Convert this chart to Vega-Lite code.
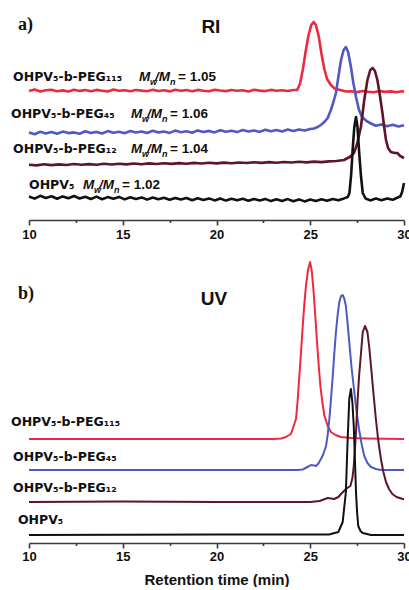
{
  "$schema": "https://vega.github.io/schema/vega-lite/v6.json",
  "padding": {"left": 10, "top": 10, "right": 0, "bottom": 0},
  "autosize": {"type": "pad"},
  "background": "white",
  "spacing": 12,
  "config": {
    "view": {"stroke": null},
    "font": "Liberation Sans",
    "axis": {"domainColor": "#3a3a3a", "domainWidth": 1.6, "tickColor": "#3a3a3a", "tickWidth": 1.6, "labelFont": "Liberation Sans", "labelFontWeight": "bold", "labelFontSize": 13, "labelColor": "#111111", "titleFont": "Liberation Sans", "titleFontWeight": "bold", "titleFontSize": 15, "titleColor": "#111111", "grid": false, "labelOverlap": false, "labelFlush": false}
  },
  "datasets": {
    "ri": [
      {"s":"PEG115","t":10.0,"v":129},{"s":"PEG115","t":10.3,"v":130.4},{"s":"PEG115","t":10.6,"v":128.6},{"s":"PEG115","t":10.9,"v":129.8},{"s":"PEG115","t":11.2,"v":130.2},{"s":"PEG115","t":11.5,"v":128.8},{"s":"PEG115","t":11.8,"v":129.6},{"s":"PEG115","t":12.1,"v":128.5},{"s":"PEG115","t":12.4,"v":130.3},{"s":"PEG115","t":12.7,"v":129.1},{"s":"PEG115","t":13.0,"v":129.9},{"s":"PEG115","t":13.3,"v":128.7},{"s":"PEG115","t":13.6,"v":130.1},{"s":"PEG115","t":13.9,"v":129.3},{"s":"PEG115","t":14.2,"v":128.6},{"s":"PEG115","t":14.5,"v":130.4},{"s":"PEG115","t":14.8,"v":129.2},{"s":"PEG115","t":15.1,"v":129.8},{"s":"PEG115","t":15.4,"v":128.7},{"s":"PEG115","t":15.7,"v":130.0},{"s":"PEG115","t":16.0,"v":129.4},{"s":"PEG115","t":16.3,"v":128.8},{"s":"PEG115","t":16.6,"v":130.3},{"s":"PEG115","t":16.9,"v":129.0},{"s":"PEG115","t":17.2,"v":129.7},{"s":"PEG115","t":17.5,"v":128.6},{"s":"PEG115","t":17.8,"v":130.2},{"s":"PEG115","t":18.1,"v":129.3},{"s":"PEG115","t":18.4,"v":129.9},{"s":"PEG115","t":18.7,"v":128.7},{"s":"PEG115","t":19.0,"v":130.1},{"s":"PEG115","t":19.3,"v":129.2},{"s":"PEG115","t":19.6,"v":128.8},{"s":"PEG115","t":19.9,"v":130.3},{"s":"PEG115","t":20.2,"v":129.5},{"s":"PEG115","t":20.5,"v":128.9},{"s":"PEG115","t":20.8,"v":130.0},{"s":"PEG115","t":21.1,"v":129.2},{"s":"PEG115","t":21.4,"v":129.8},{"s":"PEG115","t":21.7,"v":128.6},{"s":"PEG115","t":22.0,"v":130.2},{"s":"PEG115","t":22.3,"v":129.4},{"s":"PEG115","t":22.6,"v":128.9},{"s":"PEG115","t":22.9,"v":130.1},{"s":"PEG115","t":23.2,"v":129.3},{"s":"PEG115","t":23.5,"v":129.7},{"s":"PEG115","t":23.8,"v":129.0},{"s":"PEG115","t":24.1,"v":130.0},
      {"s":"PEG115","t":24.3,"v":130},{"s":"PEG115","t":24.45,"v":136},{"s":"PEG115","t":24.6,"v":150},{"s":"PEG115","t":24.75,"v":168},{"s":"PEG115","t":24.9,"v":184},{"s":"PEG115","t":25.05,"v":195},{"s":"PEG115","t":25.18,"v":198},{"s":"PEG115","t":25.3,"v":195},{"s":"PEG115","t":25.45,"v":184},{"s":"PEG115","t":25.6,"v":166},{"s":"PEG115","t":25.75,"v":151},{"s":"PEG115","t":25.9,"v":141},{"s":"PEG115","t":26.1,"v":135},{"s":"PEG115","t":26.3,"v":131.5},{"s":"PEG115","t":26.6,"v":130},{"s":"PEG115","t":26.9,"v":128.5},{"s":"PEG115","t":27.2,"v":128.8},{"s":"PEG115","t":27.5,"v":127.9},{"s":"PEG115","t":27.8,"v":129.0},{"s":"PEG115","t":28.1,"v":128.2},{"s":"PEG115","t":28.4,"v":127.7},{"s":"PEG115","t":28.7,"v":128.9},{"s":"PEG115","t":29.0,"v":128.1},{"s":"PEG115","t":29.3,"v":128.6},{"s":"PEG115","t":29.6,"v":127.8},{"s":"PEG115","t":29.9,"v":128.7},{"s":"PEG115","t":30.0,"v":128.3},
      {"s":"PEG45","t":10.0,"v":87.5},{"s":"PEG45","t":10.3,"v":85.8},{"s":"PEG45","t":10.6,"v":88.2},{"s":"PEG45","t":10.9,"v":86.6},{"s":"PEG45","t":11.2,"v":88.0},{"s":"PEG45","t":11.5,"v":86.2},{"s":"PEG45","t":11.8,"v":88.4},{"s":"PEG45","t":12.1,"v":86.9},{"s":"PEG45","t":12.4,"v":87.6},{"s":"PEG45","t":12.7,"v":86.3},{"s":"PEG45","t":13.0,"v":88.7},{"s":"PEG45","t":13.3,"v":87.0},{"s":"PEG45","t":13.6,"v":88.1},{"s":"PEG45","t":13.9,"v":86.5},{"s":"PEG45","t":14.2,"v":88.9},{"s":"PEG45","t":14.5,"v":87.2},{"s":"PEG45","t":14.8,"v":88.3},{"s":"PEG45","t":15.1,"v":86.8},{"s":"PEG45","t":15.4,"v":89.0},{"s":"PEG45","t":15.7,"v":87.4},{"s":"PEG45","t":16.0,"v":88.6},{"s":"PEG45","t":16.3,"v":87.0},{"s":"PEG45","t":16.6,"v":89.2},{"s":"PEG45","t":16.9,"v":87.6},{"s":"PEG45","t":17.2,"v":88.5},{"s":"PEG45","t":17.5,"v":87.1},{"s":"PEG45","t":17.8,"v":89.4},{"s":"PEG45","t":18.1,"v":87.8},{"s":"PEG45","t":18.4,"v":88.8},{"s":"PEG45","t":18.7,"v":87.3},{"s":"PEG45","t":19.0,"v":89.6},{"s":"PEG45","t":19.3,"v":88.0},{"s":"PEG45","t":19.6,"v":89.1},{"s":"PEG45","t":19.9,"v":87.6},{"s":"PEG45","t":20.2,"v":89.8},{"s":"PEG45","t":20.5,"v":88.2},{"s":"PEG45","t":20.8,"v":89.3},{"s":"PEG45","t":21.1,"v":87.9},{"s":"PEG45","t":21.4,"v":90.0},{"s":"PEG45","t":21.7,"v":88.4},{"s":"PEG45","t":22.0,"v":89.6},{"s":"PEG45","t":22.3,"v":88.1},{"s":"PEG45","t":22.6,"v":90.2},{"s":"PEG45","t":22.9,"v":88.7},{"s":"PEG45","t":23.2,"v":89.9},{"s":"PEG45","t":23.5,"v":88.5},{"s":"PEG45","t":23.8,"v":90.4},{"s":"PEG45","t":24.1,"v":89.0},{"s":"PEG45","t":24.4,"v":90.6},{"s":"PEG45","t":24.7,"v":89.4},{"s":"PEG45","t":25.0,"v":91.0},
      {"s":"PEG45","t":25.2,"v":91.5},{"s":"PEG45","t":25.4,"v":93},{"s":"PEG45","t":25.6,"v":95.5},{"s":"PEG45","t":25.8,"v":99},{"s":"PEG45","t":25.93,"v":102},{"s":"PEG45","t":26.1,"v":110},{"s":"PEG45","t":26.25,"v":119},{"s":"PEG45","t":26.37,"v":127},{"s":"PEG45","t":26.5,"v":143},{"s":"PEG45","t":26.64,"v":160},{"s":"PEG45","t":26.78,"v":170},{"s":"PEG45","t":26.9,"v":173},{"s":"PEG45","t":27.02,"v":168},{"s":"PEG45","t":27.17,"v":153},{"s":"PEG45","t":27.3,"v":137},{"s":"PEG45","t":27.44,"v":123},{"s":"PEG45","t":27.6,"v":110},{"s":"PEG45","t":27.76,"v":103},{"s":"PEG45","t":28.0,"v":99},{"s":"PEG45","t":28.24,"v":96.5},{"s":"PEG45","t":28.5,"v":94.2},{"s":"PEG45","t":28.8,"v":95.6},{"s":"PEG45","t":29.1,"v":93.8},{"s":"PEG45","t":29.4,"v":95.2},{"s":"PEG45","t":29.7,"v":93.6},{"s":"PEG45","t":30.0,"v":94.8},
      {"s":"PEG12","t":10.0,"v":55.3},{"s":"PEG12","t":10.4,"v":54.6},{"s":"PEG12","t":10.8,"v":55.8},{"s":"PEG12","t":11.2,"v":54.9},{"s":"PEG12","t":11.6,"v":55.6},{"s":"PEG12","t":12.0,"v":55.0},{"s":"PEG12","t":12.4,"v":56.0},{"s":"PEG12","t":12.8,"v":55.2},{"s":"PEG12","t":13.2,"v":55.9},{"s":"PEG12","t":13.6,"v":55.3},{"s":"PEG12","t":14.0,"v":56.2},{"s":"PEG12","t":14.4,"v":55.5},{"s":"PEG12","t":14.8,"v":56.3},{"s":"PEG12","t":15.2,"v":55.6},{"s":"PEG12","t":15.6,"v":56.5},{"s":"PEG12","t":16.0,"v":55.8},{"s":"PEG12","t":16.4,"v":56.6},{"s":"PEG12","t":16.8,"v":56.0},{"s":"PEG12","t":17.2,"v":56.8},{"s":"PEG12","t":17.6,"v":56.1},{"s":"PEG12","t":18.0,"v":56.9},{"s":"PEG12","t":18.4,"v":56.3},{"s":"PEG12","t":18.8,"v":57.1},{"s":"PEG12","t":19.2,"v":56.5},{"s":"PEG12","t":19.6,"v":57.2},{"s":"PEG12","t":20.0,"v":56.6},{"s":"PEG12","t":20.4,"v":57.4},{"s":"PEG12","t":20.8,"v":56.8},{"s":"PEG12","t":21.2,"v":57.5},{"s":"PEG12","t":21.6,"v":57.0},{"s":"PEG12","t":22.0,"v":57.7},{"s":"PEG12","t":22.4,"v":57.1},{"s":"PEG12","t":22.8,"v":57.9},{"s":"PEG12","t":23.2,"v":57.3},{"s":"PEG12","t":23.6,"v":58.0},{"s":"PEG12","t":24.0,"v":57.5},{"s":"PEG12","t":24.4,"v":58.2},{"s":"PEG12","t":24.8,"v":57.6},{"s":"PEG12","t":25.2,"v":58.4},{"s":"PEG12","t":25.6,"v":57.9},{"s":"PEG12","t":26.0,"v":58.6},{"s":"PEG12","t":26.4,"v":59.0},{"s":"PEG12","t":26.8,"v":60},{"s":"PEG12","t":27.1,"v":63},{"s":"PEG12","t":27.33,"v":67},{"s":"PEG12","t":27.5,"v":76},{"s":"PEG12","t":27.7,"v":93},{"s":"PEG12","t":27.88,"v":120},{"s":"PEG12","t":28.05,"v":140},{"s":"PEG12","t":28.2,"v":150},{"s":"PEG12","t":28.33,"v":152},{"s":"PEG12","t":28.45,"v":149},{"s":"PEG12","t":28.58,"v":140},{"s":"PEG12","t":28.72,"v":124},{"s":"PEG12","t":28.85,"v":107},{"s":"PEG12","t":28.95,"v":92},{"s":"PEG12","t":29.04,"v":80},{"s":"PEG12","t":29.15,"v":72},{"s":"PEG12","t":29.3,"v":68},{"s":"PEG12","t":29.5,"v":67},{"s":"PEG12","t":29.64,"v":67},{"s":"PEG12","t":29.8,"v":64},{"s":"PEG12","t":29.9,"v":63},{"s":"PEG12","t":30.0,"v":62},
      {"s":"OHPV5","t":10.0,"v":23.5},{"s":"OHPV5","t":10.3,"v":21.4},{"s":"OHPV5","t":10.6,"v":24.2},{"s":"OHPV5","t":10.9,"v":22.0},{"s":"OHPV5","t":11.2,"v":23.8},{"s":"OHPV5","t":11.5,"v":21.2},{"s":"OHPV5","t":11.8,"v":23.6},{"s":"OHPV5","t":12.1,"v":21.8},{"s":"OHPV5","t":12.4,"v":24.0},{"s":"OHPV5","t":12.7,"v":21.5},{"s":"OHPV5","t":13.0,"v":23.2},{"s":"OHPV5","t":13.3,"v":21.0},{"s":"OHPV5","t":13.6,"v":23.4},{"s":"OHPV5","t":13.9,"v":20.8},{"s":"OHPV5","t":14.2,"v":22.9},{"s":"OHPV5","t":14.5,"v":21.3},{"s":"OHPV5","t":14.8,"v":23.1},{"s":"OHPV5","t":15.1,"v":20.6},{"s":"OHPV5","t":15.4,"v":22.8},{"s":"OHPV5","t":15.7,"v":21.0},{"s":"OHPV5","t":16.0,"v":22.6},{"s":"OHPV5","t":16.3,"v":20.4},{"s":"OHPV5","t":16.6,"v":22.5},{"s":"OHPV5","t":16.9,"v":20.8},{"s":"OHPV5","t":17.2,"v":22.3},{"s":"OHPV5","t":17.5,"v":20.2},{"s":"OHPV5","t":17.8,"v":22.1},{"s":"OHPV5","t":18.1,"v":20.5},{"s":"OHPV5","t":18.4,"v":22.0},{"s":"OHPV5","t":18.7,"v":19.8},{"s":"OHPV5","t":19.0,"v":21.8},{"s":"OHPV5","t":19.3,"v":20.1},{"s":"OHPV5","t":19.6,"v":21.6},{"s":"OHPV5","t":19.9,"v":19.6},{"s":"OHPV5","t":20.2,"v":21.5},{"s":"OHPV5","t":20.5,"v":19.4},{"s":"OHPV5","t":20.8,"v":21.3},{"s":"OHPV5","t":21.1,"v":19.7},{"s":"OHPV5","t":21.4,"v":21.2},{"s":"OHPV5","t":21.7,"v":19.2},{"s":"OHPV5","t":22.0,"v":21.0},{"s":"OHPV5","t":22.3,"v":19.5},{"s":"OHPV5","t":22.6,"v":21.1},{"s":"OHPV5","t":22.9,"v":18.9},{"s":"OHPV5","t":23.2,"v":20.8},{"s":"OHPV5","t":23.5,"v":19.1},{"s":"OHPV5","t":23.8,"v":20.9},{"s":"OHPV5","t":24.1,"v":18.8},{"s":"OHPV5","t":24.4,"v":20.6},{"s":"OHPV5","t":24.7,"v":18.6},{"s":"OHPV5","t":25.0,"v":20.4},{"s":"OHPV5","t":25.3,"v":18.9},{"s":"OHPV5","t":25.6,"v":20.7},{"s":"OHPV5","t":25.9,"v":19.3},{"s":"OHPV5","t":26.2,"v":21.0},{"s":"OHPV5","t":26.5,"v":19.8},{"s":"OHPV5","t":26.8,"v":21.6},{"s":"OHPV5","t":27.0,"v":23},{"s":"OHPV5","t":27.09,"v":27},{"s":"OHPV5","t":27.18,"v":45},{"s":"OHPV5","t":27.26,"v":70},{"s":"OHPV5","t":27.35,"v":93},{"s":"OHPV5","t":27.44,"v":103},{"s":"OHPV5","t":27.52,"v":93},{"s":"OHPV5","t":27.6,"v":70},{"s":"OHPV5","t":27.7,"v":45},{"s":"OHPV5","t":27.8,"v":27},{"s":"OHPV5","t":27.95,"v":21.5},{"s":"OHPV5","t":28.2,"v":19.6},{"s":"OHPV5","t":28.5,"v":21.4},{"s":"OHPV5","t":28.8,"v":19.8},{"s":"OHPV5","t":29.1,"v":21.6},{"s":"OHPV5","t":29.4,"v":20.2},{"s":"OHPV5","t":29.6,"v":22.0},{"s":"OHPV5","t":29.8,"v":23.5},{"s":"OHPV5","t":29.9,"v":28},{"s":"OHPV5","t":30.0,"v":37}
    ],
    "uv": [
      {"s":"PEG115","t":10,"v":104},{"s":"PEG115","t":15,"v":104},{"s":"PEG115","t":20,"v":104},{"s":"PEG115","t":23.0,"v":104},{"s":"PEG115","t":23.44,"v":104.5},{"s":"PEG115","t":23.7,"v":106},{"s":"PEG115","t":23.97,"v":109},{"s":"PEG115","t":24.06,"v":114},{"s":"PEG115","t":24.15,"v":119},{"s":"PEG115","t":24.24,"v":124},{"s":"PEG115","t":24.33,"v":143},{"s":"PEG115","t":24.42,"v":167},{"s":"PEG115","t":24.51,"v":192},{"s":"PEG115","t":24.6,"v":217},{"s":"PEG115","t":24.68,"v":238},{"s":"PEG115","t":24.77,"v":257},{"s":"PEG115","t":24.88,"v":273},{"s":"PEG115","t":24.99,"v":281},{"s":"PEG115","t":25.08,"v":272},{"s":"PEG115","t":25.18,"v":251},{"s":"PEG115","t":25.27,"v":227},{"s":"PEG115","t":25.36,"v":201},{"s":"PEG115","t":25.45,"v":178},{"s":"PEG115","t":25.54,"v":157},{"s":"PEG115","t":25.65,"v":140},{"s":"PEG115","t":25.76,"v":127},{"s":"PEG115","t":25.93,"v":117},{"s":"PEG115","t":26.1,"v":111},{"s":"PEG115","t":26.35,"v":108},{"s":"PEG115","t":26.64,"v":106},{"s":"PEG115","t":27.2,"v":105},{"s":"PEG115","t":28,"v":104.5},{"s":"PEG115","t":30,"v":104},
      {"s":"PEG45","t":10,"v":73},{"s":"PEG45","t":15,"v":73},{"s":"PEG45","t":20,"v":73},{"s":"PEG45","t":24.3,"v":73},{"s":"PEG45","t":24.6,"v":73.5},{"s":"PEG45","t":24.85,"v":76},{"s":"PEG45","t":25.04,"v":78},{"s":"PEG45","t":25.2,"v":77.5},{"s":"PEG45","t":25.31,"v":77},{"s":"PEG45","t":25.45,"v":80},{"s":"PEG45","t":25.57,"v":84},{"s":"PEG45","t":25.7,"v":89},{"s":"PEG45","t":25.84,"v":97},{"s":"PEG45","t":25.93,"v":108},{"s":"PEG45","t":26.02,"v":124},{"s":"PEG45","t":26.11,"v":145},{"s":"PEG45","t":26.2,"v":167},{"s":"PEG45","t":26.28,"v":189},{"s":"PEG45","t":26.37,"v":211},{"s":"PEG45","t":26.46,"v":228},{"s":"PEG45","t":26.55,"v":241},{"s":"PEG45","t":26.64,"v":247},{"s":"PEG45","t":26.73,"v":248},{"s":"PEG45","t":26.82,"v":244},{"s":"PEG45","t":26.9,"v":237},{"s":"PEG45","t":26.99,"v":220},{"s":"PEG45","t":27.08,"v":201},{"s":"PEG45","t":27.2,"v":176},{"s":"PEG45","t":27.35,"v":151},{"s":"PEG45","t":27.48,"v":130},{"s":"PEG45","t":27.6,"v":114},{"s":"PEG45","t":27.74,"v":99},{"s":"PEG45","t":27.88,"v":87},{"s":"PEG45","t":28.05,"v":80},{"s":"PEG45","t":28.24,"v":76},{"s":"PEG45","t":28.5,"v":74},{"s":"PEG45","t":28.77,"v":73},{"s":"PEG45","t":30,"v":73},
      {"s":"PEG12","t":10,"v":41},{"s":"PEG12","t":15,"v":41.5},{"s":"PEG12","t":20,"v":41},{"s":"PEG12","t":25,"v":41},{"s":"PEG12","t":25.5,"v":42},{"s":"PEG12","t":25.93,"v":45},{"s":"PEG12","t":26.28,"v":44},{"s":"PEG12","t":26.5,"v":46},{"s":"PEG12","t":26.64,"v":49},{"s":"PEG12","t":26.9,"v":54},{"s":"PEG12","t":27.14,"v":57},{"s":"PEG12","t":27.25,"v":65},{"s":"PEG12","t":27.32,"v":77},{"s":"PEG12","t":27.38,"v":93},{"s":"PEG12","t":27.44,"v":111},{"s":"PEG12","t":27.53,"v":144},{"s":"PEG12","t":27.6,"v":166},{"s":"PEG12","t":27.68,"v":184},{"s":"PEG12","t":27.8,"v":211},{"s":"PEG12","t":27.92,"v":217},{"s":"PEG12","t":28.05,"v":211},{"s":"PEG12","t":28.15,"v":195},{"s":"PEG12","t":28.24,"v":177},{"s":"PEG12","t":28.37,"v":150},{"s":"PEG12","t":28.5,"v":124},{"s":"PEG12","t":28.63,"v":102},{"s":"PEG12","t":28.77,"v":84},{"s":"PEG12","t":28.9,"v":71},{"s":"PEG12","t":29.04,"v":61},{"s":"PEG12","t":29.2,"v":54},{"s":"PEG12","t":29.38,"v":49},{"s":"PEG12","t":29.6,"v":46},{"s":"PEG12","t":29.93,"v":44},{"s":"PEG12","t":30,"v":44},
      {"s":"OHPV5","t":10,"v":8},{"s":"OHPV5","t":20,"v":8.5},{"s":"OHPV5","t":26,"v":8.5},{"s":"OHPV5","t":26.5,"v":11},{"s":"OHPV5","t":26.73,"v":21},{"s":"OHPV5","t":26.9,"v":51},{"s":"OHPV5","t":26.99,"v":101},{"s":"OHPV5","t":27.08,"v":144},{"s":"OHPV5","t":27.17,"v":154},{"s":"OHPV5","t":27.25,"v":140},{"s":"OHPV5","t":27.32,"v":117},{"s":"OHPV5","t":27.38,"v":85},{"s":"OHPV5","t":27.44,"v":51},{"s":"OHPV5","t":27.5,"v":30},{"s":"OHPV5","t":27.56,"v":17},{"s":"OHPV5","t":27.68,"v":12},{"s":"OHPV5","t":27.8,"v":10},{"s":"OHPV5","t":28.24,"v":8},{"s":"OHPV5","t":30,"v":8}
    ],
    "names": [
      {"p":"RI","label":"OHPV₅-b-PEG₁₁₅","t":9.15,"v":143},
      {"p":"RI","label":"OHPV₅-b-PEG₄₅","t":9.04,"v":106},
      {"p":"RI","label":"OHPV₅-b-PEG₁₂","t":9.15,"v":71},
      {"p":"RI","label":"OHPV₅","t":10.0,"v":35},
      {"p":"UV","label":"OHPV₅-b-PEG₁₁₅","t":9.04,"v":121},
      {"p":"UV","label":"OHPV₅-b-PEG₄₅","t":9.15,"v":86},
      {"p":"UV","label":"OHPV₅-b-PEG₁₂","t":9.15,"v":55},
      {"p":"UV","label":"OHPV₅","t":9.41,"v":23}
    ],
    "ratios": [
      {"r":"= 1.05","t":15.87,"v":143},
      {"r":"= 1.06","t":15.44,"v":106},
      {"r":"= 1.04","t":15.44,"v":71},
      {"r":"= 1.02","t":12.88,"v":35}
    ],
    "heads": [
      {"p":"RI","tag":"a)","title":"RI","t":9.41,"v":195,"tc":19.7,"vc":193},
      {"p":"UV","tag":"b)","title":"UV","t":9.41,"v":249,"tc":19.87,"vc":244}
    ]
  },
  "vconcat": [
    {
      "width": 375,
      "height": 210,
      "layer": [
        {
          "data": {"name": "ri"},
          "mark": {"type": "line", "strokeWidth": 2.6, "strokeJoin": "round"},
          "encoding": {
            "x": {"field": "t", "type": "quantitative", "scale": {"domain": [10, 30], "nice": false},
              "axis": {"values": [10, 12.5, 15, 17.5, 20, 22.5, 25, 27.5, 30], "labelExpr": "datum.value % 5 === 0 ? datum.label : ''", "tickSize": {"condition": {"test": "datum.value % 5 === 0", "value": 5}, "value": 2.5}, "labelPadding": 3, "title": null}},
            "y": {"field": "v", "type": "quantitative", "scale": {"domain": [0, 210], "nice": false, "zero": false}, "axis": null},
            "color": {"field": "s", "type": "nominal", "scale": {"domain": ["PEG115", "PEG45", "PEG12", "OHPV5"], "range": ["#f0283f", "#5059c2", "#5e1528", "#111111"]}, "legend": null}
          }
        },
        {
          "data": {"name": "names"},
          "transform": [{"filter": "datum.p === 'RI'"}],
          "mark": {"type": "text", "align": "left", "baseline": "middle", "fontWeight": "bold", "fontSize": 12.5, "font": "DejaVu Sans", "color": "#111111"},
          "encoding": {"x": {"field": "t", "type": "quantitative"}, "y": {"field": "v", "type": "quantitative"}, "text": {"field": "label"}}
        },
        {
          "data": {"name": "ratios"},
          "mark": {"type": "text", "text": "M", "align": "left", "baseline": "middle", "fontWeight": "bold", "fontStyle": "italic", "fontSize": 13.5, "font": "Liberation Sans", "color": "#111111"},
          "encoding": {"x": {"field": "t", "type": "quantitative"}, "y": {"field": "v", "type": "quantitative"}}
        },
        {
          "data": {"name": "ratios"},
          "mark": {"type": "text", "text": "w", "align": "left", "baseline": "middle", "dx": 11, "dy": 5, "fontWeight": "bold", "fontStyle": "italic", "fontSize": 9, "font": "Liberation Sans", "color": "#111111"},
          "encoding": {"x": {"field": "t", "type": "quantitative"}, "y": {"field": "v", "type": "quantitative"}}
        },
        {
          "data": {"name": "ratios"},
          "mark": {"type": "text", "text": "/M", "align": "left", "baseline": "middle", "dx": 16, "fontWeight": "bold", "fontStyle": "italic", "fontSize": 13.5, "font": "Liberation Sans", "color": "#111111"},
          "encoding": {"x": {"field": "t", "type": "quantitative"}, "y": {"field": "v", "type": "quantitative"}}
        },
        {
          "data": {"name": "ratios"},
          "mark": {"type": "text", "text": "n", "align": "left", "baseline": "middle", "dx": 31, "dy": 5, "fontWeight": "bold", "fontStyle": "italic", "fontSize": 9, "font": "Liberation Sans", "color": "#111111"},
          "encoding": {"x": {"field": "t", "type": "quantitative"}, "y": {"field": "v", "type": "quantitative"}}
        },
        {
          "data": {"name": "ratios"},
          "mark": {"type": "text", "align": "left", "baseline": "middle", "dx": 39, "fontWeight": "bold", "fontSize": 13.5, "font": "Liberation Sans", "color": "#111111"},
          "encoding": {"x": {"field": "t", "type": "quantitative"}, "y": {"field": "v", "type": "quantitative"}, "text": {"field": "r"}}
        },
        {
          "data": {"name": "heads"},
          "transform": [{"filter": "datum.p === 'RI'"}],
          "mark": {"type": "text", "align": "left", "baseline": "middle", "fontWeight": "bold", "fontSize": 18, "font": "Liberation Serif", "color": "#111111"},
          "encoding": {"x": {"field": "t", "type": "quantitative"}, "y": {"field": "v", "type": "quantitative"}, "text": {"field": "tag"}}
        },
        {
          "data": {"name": "heads"},
          "transform": [{"filter": "datum.p === 'RI'"}],
          "mark": {"type": "text", "align": "center", "baseline": "middle", "fontWeight": "bold", "fontSize": 19, "font": "Liberation Sans", "color": "#111111"},
          "encoding": {"x": {"field": "tc", "type": "quantitative"}, "y": {"field": "vc", "type": "quantitative"}, "text": {"field": "title"}}
        }
      ]
    },
    {
      "width": 375,
      "height": 290,
      "layer": [
        {
          "data": {"name": "uv"},
          "mark": {"type": "line", "strokeWidth": 2, "strokeJoin": "round"},
          "encoding": {
            "x": {"field": "t", "type": "quantitative", "scale": {"domain": [10, 30], "nice": false},
              "axis": {"values": [10, 12.5, 15, 17.5, 20, 22.5, 25, 27.5, 30], "labelExpr": "datum.value % 5 === 0 ? datum.label : ''", "tickSize": {"condition": {"test": "datum.value % 5 === 0", "value": 5}, "value": 2.5}, "labelPadding": 2, "title": "Retention time (min)", "titlePadding": 9}},
            "y": {"field": "v", "type": "quantitative", "scale": {"domain": [0, 290], "nice": false, "zero": false}, "axis": null},
            "color": {"field": "s", "type": "nominal", "scale": {"domain": ["PEG115", "PEG45", "PEG12", "OHPV5"], "range": ["#f0283f", "#5059c2", "#4f1020", "#2e2e2e"]}, "legend": null}
          }
        },
        {
          "data": {"name": "names"},
          "transform": [{"filter": "datum.p === 'UV'"}],
          "mark": {"type": "text", "align": "left", "baseline": "middle", "fontWeight": "bold", "fontSize": 12.5, "font": "DejaVu Sans", "color": "#111111"},
          "encoding": {"x": {"field": "t", "type": "quantitative"}, "y": {"field": "v", "type": "quantitative"}, "text": {"field": "label"}}
        },
        {
          "data": {"name": "heads"},
          "transform": [{"filter": "datum.p === 'UV'"}],
          "mark": {"type": "text", "align": "left", "baseline": "middle", "fontWeight": "bold", "fontSize": 18, "font": "Liberation Serif", "color": "#111111"},
          "encoding": {"x": {"field": "t", "type": "quantitative"}, "y": {"field": "v", "type": "quantitative"}, "text": {"field": "tag"}}
        },
        {
          "data": {"name": "heads"},
          "transform": [{"filter": "datum.p === 'UV'"}],
          "mark": {"type": "text", "align": "center", "baseline": "middle", "fontWeight": "bold", "fontSize": 19, "font": "Liberation Sans", "color": "#111111"},
          "encoding": {"x": {"field": "tc", "type": "quantitative"}, "y": {"field": "vc", "type": "quantitative"}, "text": {"field": "title"}}
        }
      ]
    }
  ]
}
